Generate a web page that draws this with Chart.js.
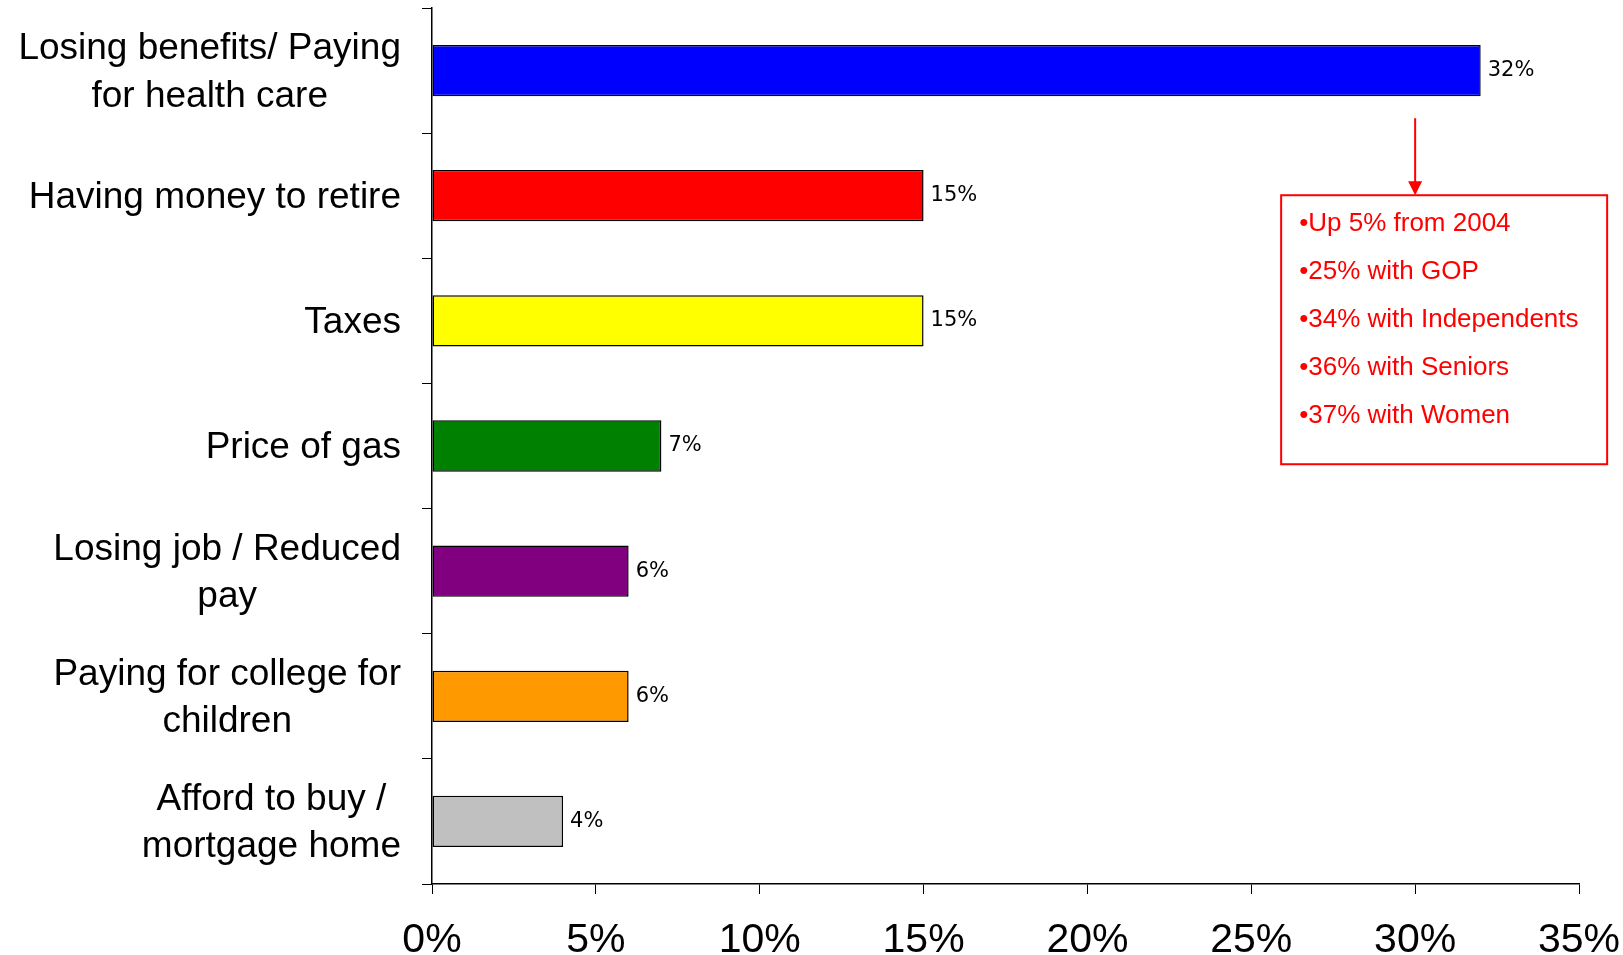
<!DOCTYPE html>
<html>
<head>
<meta charset="utf-8">
<script src="https://cdn.jsdelivr.net/npm/chart.js@4/dist/chart.umd.min.js"></script>
<style>
  html, body { margin: 0; padding: 0; background: #fff; }
  #wrap { width: 1623px; height: 955px; position: relative; }
</style>
</head>
<body>
<div id="wrap"><canvas id="worryChart"></canvas></div>
<script>
// Données du graphique
const categories = [
    ['Losing benefits/ Paying', 'for health care'],
    ['Having money to retire'],
    ['Taxes'],
    ['Price of gas'],
    ['Losing job / Reduced', 'pay'],
    ['Paying for college for', 'children'],
    ['Afford to buy /', 'mortgage home']
];
const values = [32, 15, 15, 7, 6, 6, 4];
const barColors = ['#0000FF', '#FF0000', '#FFFF00', '#008000', '#800080', '#FF9900', '#C0C0C0'];
const xTicks = [0, 5, 10, 15, 20, 25, 30, 35];
const noteLines = [
    '\u2022Up 5% from 2004',
    '\u202225% with GOP',
    '\u202234% with Independents',
    '\u202236% with Seniors',
    '\u202237% with Women'
];
const notePointsAt = 30; // la flèche pointe sur 30%

// Étiquettes de catégories (bloc aligné à droite, lignes centrées)
const categoryLabels = {
    id: 'categoryLabels',
    afterDraw(chart) {
        const ctx = chart.ctx;
        const y = chart.scales.y;
        const right = chart.chartArea.left - 31;
        const lh = 47.6;
        ctx.save();
        ctx.font = '37px "Liberation Sans", Arial, sans-serif';
        ctx.fillStyle = '#000';
        ctx.textBaseline = 'middle';
        ctx.textAlign = 'center';
        categories.forEach((lines, i) => {
            const cy = y.getPixelForValue(i) + 2;
            const w = Math.max(...lines.map(l => ctx.measureText(l).width));
            const cx = right - w / 2;
            const top = cy - (lines.length - 1) * lh / 2;
            lines.forEach((l, j) => ctx.fillText(l, cx, top + j * lh));
        });
        ctx.restore();
    }
};

// Valeurs au bout des barres
const valueLabels = {
    id: 'valueLabels',
    afterDatasetsDraw(chart) {
        const ctx = chart.ctx;
        const meta = chart.getDatasetMeta(0);
        ctx.save();
        ctx.font = '21px "DejaVu Sans", sans-serif';
        ctx.fillStyle = '#000';
        ctx.textBaseline = 'middle';
        ctx.textAlign = 'left';
        meta.data.forEach((bar, i) => {
            ctx.fillText(values[i] + '%', bar.x + 7, bar.y);
        });
        ctx.restore();
    }
};

// Encadré rouge avec flèche
const noteBox = {
    id: 'noteBox',
    afterDraw(chart) {
        const ctx = chart.ctx;
        const ax = chart.scales.x.getPixelForValue(notePointsAt);
        const bar = chart.getDatasetMeta(0).data[0];
        const arrowTop = bar.y + bar.height / 2 + 22;
        const boxTop = arrowTop + 77;
        const boxLeft = ax - 134;
        const boxW = 326, boxH = 269;
        ctx.save();
        ctx.strokeStyle = '#FF0000';
        ctx.fillStyle = '#FF0000';
        ctx.lineWidth = 2;
        ctx.beginPath();
        ctx.moveTo(ax, arrowTop);
        ctx.lineTo(ax, boxTop - 12);
        ctx.stroke();
        ctx.beginPath();
        ctx.moveTo(ax - 7, boxTop - 14);
        ctx.lineTo(ax + 7, boxTop - 14);
        ctx.lineTo(ax, boxTop);
        ctx.closePath();
        ctx.fill();
        ctx.strokeRect(boxLeft, boxTop, boxW, boxH);
        ctx.font = '26px "Liberation Sans", Arial, sans-serif';
        ctx.textBaseline = 'middle';
        ctx.textAlign = 'left';
        noteLines.forEach((t, i) => {
            ctx.fillText(t, boxLeft + 18, boxTop + 29 + i * 48);
        });
        ctx.restore();
    }
};

new Chart(document.getElementById('worryChart'), {
    type: 'bar',
    data: {
        labels: categories.map(c => c.join(' ')),
        datasets: [{
            data: values,
            backgroundColor: barColors,
            borderColor: '#000',
            borderWidth: 1.5,
            borderSkipped: false,
            barPercentage: 0.41,
            categoryPercentage: 1
        }]
    },
    options: {
        indexAxis: 'y',
        responsive: true,
        maintainAspectRatio: false,
        animation: false,
        layout: { padding: { top: 8, right: 44, left: 0, bottom: 0 } },
        plugins: {
            legend: { display: false },
            tooltip: { enabled: false }
        },
        scales: {
            x: {
                min: 0,
                max: 35,
                afterBuildTicks(axis) {
                    axis.ticks = xTicks.map(v => ({ value: v }));
                },
                afterFit(axis) {
                    axis.height = 71;
                    axis.paddingLeft = 0;
                    axis.paddingRight = 0;
                },
                border: { color: '#000', width: 1.5 },
                grid: {
                    drawOnChartArea: false,
                    drawTicks: true,
                    tickLength: 10,
                    color: '#000',
                    lineWidth: 1
                },
                ticks: {
                    maxRotation: 0,
                    padding: 22,
                    color: '#000',
                    font: { family: '"Liberation Sans Narrow", "Arial Narrow", sans-serif', size: 41 },
                    callback: v => v + '%'
                }
            },
            y: {
                afterFit(axis) { axis.width = 432; },
                border: { color: '#000', width: 1.5 },
                grid: {
                    offset: true,
                    drawOnChartArea: false,
                    drawTicks: true,
                    tickLength: 10,
                    color: '#000',
                    lineWidth: 1
                },
                ticks: { display: false }
            }
        }
    },
    plugins: [categoryLabels, valueLabels, noteBox]
});
</script>
</body>
</html>
